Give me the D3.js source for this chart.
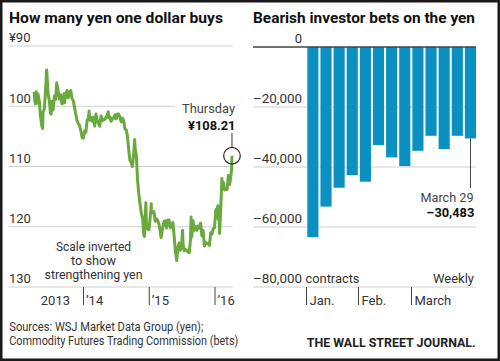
<!DOCTYPE html>
<html>
<head>
<meta charset="utf-8">
<script src="https://cdn.jsdelivr.net/npm/d3@7"></script>
<style>
  html, body { margin: 0; padding: 0; background: #fff; }
  svg { display: block; }
  text { font-family: Roboto, "Open Sans", sans-serif; }
</style>
</head>
<body>
<svg id="chart" width="500" height="361"></svg>
<script>
// ---------- DATA ----------
const yenDates = [
 "2013-04-05","2013-04-08","2013-04-12","2013-04-16","2013-04-19","2013-04-26","2013-05-03","2013-05-10","2013-05-17","2013-05-22",
 "2013-05-24","2013-05-31","2013-06-07","2013-06-13","2013-06-14","2013-06-21","2013-06-28","2013-07-05","2013-07-08","2013-07-12",
 "2013-07-19","2013-07-26","2013-08-02","2013-08-08","2013-08-09","2013-08-16","2013-08-23","2013-08-30","2013-09-06","2013-09-13",
 "2013-09-18","2013-09-20","2013-09-27","2013-10-04","2013-10-11","2013-10-18","2013-10-25","2013-11-01","2013-11-08","2013-11-15",
 "2013-11-22","2013-11-29","2013-12-06","2013-12-13","2013-12-20","2013-12-27","2014-01-02","2014-01-10","2014-01-17","2014-01-24",
 "2014-01-31","2014-02-04","2014-02-07","2014-02-14","2014-02-21","2014-02-28","2014-03-07","2014-03-14","2014-03-21","2014-03-28",
 "2014-04-04","2014-04-11","2014-04-18","2014-04-25","2014-05-02","2014-05-09","2014-05-16","2014-05-21","2014-05-23","2014-05-30",
 "2014-06-06","2014-06-13","2014-06-20","2014-06-27","2014-07-04","2014-07-11","2014-07-18","2014-07-25","2014-08-01","2014-08-08",
 "2014-08-15","2014-08-22","2014-08-29","2014-09-05","2014-09-12","2014-09-19","2014-09-26","2014-10-01","2014-10-03","2014-10-10",
 "2014-10-15","2014-10-17","2014-10-24","2014-10-31","2014-11-07","2014-11-14","2014-11-21","2014-11-28","2014-12-05","2014-12-08",
 "2014-12-12","2014-12-16","2014-12-19","2014-12-26","2015-01-02","2015-01-09","2015-01-15","2015-01-16","2015-01-23","2015-01-30",
 "2015-02-06","2015-02-13","2015-02-20","2015-02-27","2015-03-06","2015-03-10","2015-03-13","2015-03-20","2015-03-27","2015-04-03",
 "2015-04-10","2015-04-17","2015-04-24","2015-05-01","2015-05-08","2015-05-15","2015-05-22","2015-05-29","2015-06-05","2015-06-12",
 "2015-06-19","2015-06-26","2015-07-03","2015-07-08","2015-07-10","2015-07-17","2015-07-24","2015-07-31","2015-08-07","2015-08-14",
 "2015-08-21","2015-08-24","2015-08-28","2015-09-04","2015-09-11","2015-09-18","2015-09-25","2015-10-02","2015-10-09","2015-10-16",
 "2015-10-23","2015-10-30","2015-11-06","2015-11-13","2015-11-20","2015-11-27","2015-12-04","2015-12-11","2015-12-18","2015-12-25",
 "2016-01-01","2016-01-08","2016-01-15","2016-01-20","2016-01-22","2016-01-28","2016-01-29","2016-02-05","2016-02-11","2016-02-12",
 "2016-02-19","2016-02-26","2016-03-04","2016-03-11","2016-03-18","2016-03-25","2016-04-01","2016-04-05","2016-04-07"
];
const yenValues = [
 97.6, 99.0, 99.6, 97.6, 99.5, 98.0, 99.0, 101.6, 103.2, 103.7,
 101.0, 100.5, 97.5, 94.0, 94.2, 97.9, 99.1, 101.2, 101.3, 99.2,
 100.6, 98.3, 98.9, 96.1, 96.3, 97.5, 98.8, 98.1, 99.6, 99.4,
 97.9, 99.4, 98.3, 97.4, 98.6, 97.7, 97.4, 98.7, 99.1, 100.2,
 101.3, 102.4, 102.9, 103.2, 104.1, 105.2, 105.3, 104.1, 104.3, 102.3,
 102.0, 100.8, 102.3, 101.8, 102.5, 101.8, 103.3, 101.3, 102.3, 102.8,
 103.3, 101.6, 102.4, 102.2, 102.2, 101.8, 101.5, 100.9, 101.9, 101.8,
 102.5, 102.0, 102.0, 101.4, 102.1, 101.3, 101.3, 101.8, 102.6, 102.0,
 102.4, 103.8, 103.9, 105.0, 107.3, 109.0, 109.3, 110.0, 109.8, 107.7,
 105.5, 106.9, 108.1, 112.3, 114.6, 116.3, 117.8, 118.6, 121.4, 121.6,
 118.8, 116.0, 119.5, 120.4, 120.5, 118.5, 116.2, 117.5, 117.7, 117.5,
 119.1, 118.7, 119.0, 119.6, 120.8, 121.8, 121.4, 120.0, 119.1, 119.0,
 120.2, 118.9, 118.9, 120.2, 119.7, 119.3, 121.5, 124.1, 125.6, 123.4,
 122.7, 123.9, 122.8, 120.6, 122.8, 124.0, 123.8, 123.9, 124.2, 124.3,
 122.0, 118.4, 121.7, 119.0, 120.6, 120.0, 120.6, 119.9, 120.2, 119.4,
 121.5, 120.6, 123.2, 122.6, 122.8, 122.8, 123.1, 121.0, 121.2, 120.3,
 120.2, 117.2, 117.0, 116.5, 118.8, 118.7, 121.1, 116.8, 112.0, 113.2,
 112.6, 113.9, 113.8, 113.8, 111.5, 113.0, 111.6, 110.3, 108.21
];
const yenGridValues = [90, 100, 110, 120, 130];
const yenGridLabels = ["¥90", "100", "110", "120", "130"];
const yenTickDates = ["2014-01-01", "2015-01-01", "2016-01-01"];
const yenTickLabels = ["’14", "’15", "’16"];

const betWeeks = ["Jan. 5","Jan. 12","Jan. 19","Jan. 26","Feb. 2","Feb. 9","Feb. 16","Feb. 23","March 1","March 8","March 15","March 22","March 29"];
const betValues = [-63400, -53200, -46900, -42700, -44900, -32700, -36800, -39700, -34600, -29600, -34000, -29600, -30483];
const betGridValues = [0, -20000, -40000, -60000, -80000];
const betGridLabels = ["0", "–20,000", "–40,000", "–60,000", "–80,000"];
const monthLabels = ["Jan.", "Feb.", "March"];
const monthFirstWeeks = ["Jan. 5", "Feb. 2", "March 1"];

// ---------- SETUP ----------
const svg = d3.select("#chart");
const parse = d3.timeParse("%Y-%m-%d");
const GRID = "#cfcfcf", TXT = "#333", DARK = "#111";

function fit(sel, w) { return sel.attr("textLength", w).attr("lengthAdjust", "spacingAndGlyphs"); }

// frame
svg.append("rect").attr("x", 1.25).attr("y", 1.25).attr("width", 497.5).attr("height", 358.5)
  .attr("fill", "none").attr("stroke", "#1a1a1a").attr("stroke-width", 2.5);

// ---------- LEFT CHART ----------
const xL = d3.scaleTime().domain([parse("2014-01-01"), parse("2016-01-01")]).range([83, 214.5]);
const yL = d3.scaleLinear().domain([90, 130]).range([46, 287]);

fit(svg.append("text").attr("x", 9).attr("y", 23.3).attr("font-size", 14.5).attr("font-weight", "bold")
  .attr("fill", DARK).text("How many yen one dollar buys"), 214);

const gL = svg.append("g");
yenGridValues.forEach((v, i) => {
  gL.append("line").attr("x1", 8.5).attr("x2", v === 100 ? 175 : 232.5)
    .attr("y1", yL(v)).attr("y2", yL(v)).attr("stroke", GRID).attr("stroke-width", 1);
  gL.append("text").attr("x", 9).attr("y", yL(v) - 3.7).attr("font-size", 13).attr("fill", TXT)
    .text(yenGridLabels[i]);
});

// x axis ticks
const axL = d3.axisBottom(xL).tickValues(yenTickDates.map(parse)).tickSize(18)
  .tickFormat((d, i) => yenTickLabels[i]);
const axLg = svg.append("g").attr("transform", `translate(0,${yL(130)})`).call(axL);
axLg.select(".domain").remove();
axLg.selectAll(".tick line").attr("stroke", "#444").attr("stroke-width", 1);
axLg.selectAll(".tick text").attr("x", 2.5).attr("y", 18).attr("dy", 0).attr("text-anchor", "start")
  .attr("font-size", 13).attr("fill", TXT).attr("font-family", "Roboto, sans-serif");
svg.append("text").attr("x", xL(parse("2014-01-01")) - 13).attr("y", yL(130) + 18)
  .attr("text-anchor", "end").attr("font-size", 13).attr("fill", TXT).text("2013");

// annotation
const noteLines = ["Scale inverted", "to show", "strengthening yen"];
const noteW = [75, 45, 98];
noteLines.forEach((t, i) => {
  fit(svg.append("text").attr("x", 93.5).attr("y", 251.3 + i * 14).attr("text-anchor", "middle")
    .attr("font-size", 13).attr("fill", TXT).text(t), noteW[i]);
});

// line
const yenData = yenDates.map((d, i) => ({ date: parse(d), value: yenValues[i] }));
svg.append("path").datum(yenData)
  .attr("d", d3.line().x(d => xL(d.date)).y(d => yL(d.value)))
  .attr("fill", "none").attr("stroke", "#69a93d").attr("stroke-width", 3)
  .attr("stroke-linejoin", "round");

// last point callout
const last = yenData[yenData.length - 1];
const cx = xL(last.date), cy = yL(last.value);
svg.append("circle").attr("cx", cx).attr("cy", cy).attr("r", 8.3)
  .attr("fill", "none").attr("stroke", "#333").attr("stroke-width", 1.3);
svg.append("line").attr("x1", cx).attr("x2", cx).attr("y1", 133).attr("y2", cy - 8.3)
  .attr("stroke", "#333").attr("stroke-width", 1);
fit(svg.append("text").attr("x", 235).attr("y", 113).attr("text-anchor", "end").attr("font-size", 13)
  .attr("fill", "#444").text("Thursday"), 53);
fit(svg.append("text").attr("x", 235.5).attr("y", 130).attr("text-anchor", "end").attr("font-size", 13)
  .attr("font-weight", "bold").attr("fill", DARK).text("¥" + last.value.toFixed(2)), 47.5);

// sources
fit(svg.append("text").attr("x", 9.3).attr("y", 331).attr("font-size", 12).attr("fill", TXT)
  .text("Sources: WSJ Market Data Group (yen);"), 194);
fit(svg.append("text").attr("x", 9.3).attr("y", 345).attr("font-size", 12).attr("fill", TXT)
  .text("Commodity Futures Trading Commission (bets)"), 229);

// ---------- RIGHT CHART ----------
const xR = d3.scaleBand().domain(betWeeks).range([307.3, 476]).paddingInner(0.152).paddingOuter(0);
const yR = d3.scaleLinear().domain([-80000, 0]).range([287, 47]);

fit(svg.append("text").attr("x", 253).attr("y", 23.3).attr("font-size", 14.5).attr("font-weight", "bold")
  .attr("fill", DARK).text("Bearish investor bets on the yen"), 222);

const gR = svg.append("g");
betGridValues.forEach((v, i) => {
  if (v !== 0) {
    gR.append("line").attr("x1", 253).attr("x2", 476).attr("y1", yR(v)).attr("y2", yR(v))
      .attr("stroke", GRID).attr("stroke-width", 1);
  }
  const t = gR.append("text").attr("x", 302).attr("y", yR(v) - 3.7).attr("text-anchor", "end")
    .attr("font-size", 13).attr("fill", TXT).text(betGridLabels[i]);
  if (v !== 0) fit(t, 49);
});
fit(svg.append("text").attr("x", 305.5).attr("y", yR(-80000) - 3.7).attr("font-size", 13).attr("fill", TXT)
  .text("contracts"), 54);
fit(svg.append("text").attr("x", 474).attr("y", yR(-80000) - 3.7).attr("text-anchor", "end").attr("font-size", 13)
  .attr("fill", TXT).text("Weekly"), 41);

// bars
svg.append("g").selectAll("rect").data(betWeeks).join("rect")
  .attr("x", d => xR(d)).attr("width", xR.bandwidth())
  .attr("y", yR(0)).attr("height", (d, i) => yR(betValues[i]) - yR(0))
  .attr("fill", "#0b91c1");

// zero line
svg.append("line").attr("x1", 253).attr("x2", 476).attr("y1", yR(0)).attr("y2", yR(0))
  .attr("stroke", "#444").attr("stroke-width", 1.3);

// month ticks
monthFirstWeeks.forEach((w, i) => {
  const x = Math.round(xR(w) - 1.5) + 0.5;
  svg.append("line").attr("x1", x).attr("x2", x).attr("y1", yR(-80000)).attr("y2", yR(-80000) + 18)
    .attr("stroke", "#444").attr("stroke-width", 1);
  svg.append("text").attr("x", x + 3).attr("y", yR(-80000) + 18).attr("font-size", 13).attr("fill", TXT)
    .text(monthLabels[i]);
});

// last bar callout
const lastW = betWeeks[betWeeks.length - 1], lastV = betValues[betValues.length - 1];
const lx = Math.round(xR(lastW) + xR.bandwidth() / 2) + 0.5;
svg.append("line").attr("x1", lx).attr("x2", lx).attr("y1", yR(lastV)).attr("y2", 188)
  .attr("stroke", "#444").attr("stroke-width", 1);
fit(svg.append("text").attr("x", 473.5).attr("y", 201.7).attr("text-anchor", "end").attr("font-size", 13)
  .attr("fill", "#444").text(lastW), 53);
fit(svg.append("text").attr("x", 474.3).attr("y", 217).attr("text-anchor", "end").attr("font-size", 13)
  .attr("font-weight", "bold").attr("fill", DARK).text("–" + d3.format(",")(-lastV)), 48);

// WSJ logo text
fit(svg.append("text").attr("x", 306.7).attr("y", 346.5).attr("font-size", 13)
  .attr("font-family", "'Liberation Serif', 'DejaVu Serif', serif").attr("font-weight", "bold")
  .attr("fill", "#222").text("THE WALL STREET JOURNAL."), 169);
</script>
</body>
</html>
